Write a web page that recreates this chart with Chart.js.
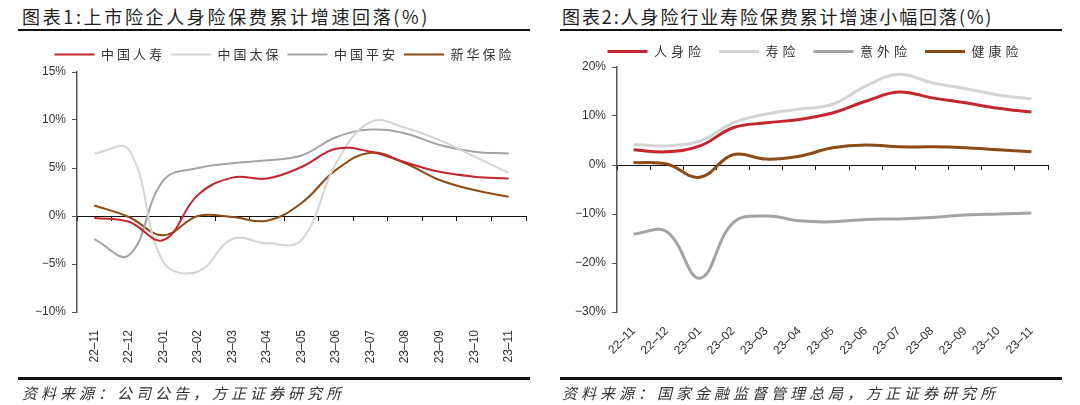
<!DOCTYPE html>
<html>
<head>
<meta charset="utf-8">
<script src="https://cdn.jsdelivr.net/npm/chart.js@4.4.1/dist/chart.umd.min.js"></script>
<style>
  html, body { margin: 0; padding: 0; background: #fff; }
  body { width: 1080px; height: 405px; position: relative; overflow: hidden; font-family: "Noto Sans CJK SC", sans-serif; }
  .title { position: absolute; top: 3px; font-size: 18px; color: #1e1e1e; white-space: nowrap; }
  .rule { position: absolute; height: 2px; background: #111; }
  .src { position: absolute; top: 382px; font-size: 15px; letter-spacing: 4px; font-style: italic; color: #333; white-space: nowrap; }
  .box { position: absolute; top: 0; width: 540px; height: 380px; }
</style>
</head>
<body>
<div class="title" style="left:22px;letter-spacing:2.65px">图表1:上市险企人身险保费累计增速回落(%)</div>
<div class="rule" style="left:18px;width:512px;top:29px"></div>
<div class="box" style="left:0"><canvas id="c1"></canvas></div>
<div class="rule" style="left:18px;width:512px;top:377px;height:3px"></div>
<div class="src" style="left:22px">资料来源：公司公告，方正证券研究所</div>

<div class="title" style="left:562px;letter-spacing:1.9px">图表2:人身险行业寿险保费累计增速小幅回落(%)</div>
<div class="rule" style="left:560px;width:502px;top:29px"></div>
<div class="box" style="left:540px"><canvas id="c2"></canvas></div>
<div class="rule" style="left:560px;width:502px;top:377px;height:3px"></div>
<div class="src" style="left:562px">资料来源：国家金融监督管理总局，方正证券研究所</div>

<script>
// 月份
const months = ['22–11', '22–12', '23–01', '23–02', '23–03', '23–04', '23–05', '23–06', '23–07', '23–08', '23–09', '23–10', '23–11'];

// 图表1: 上市险企 (%)
const chinaLife = [-0.2, -0.6, -2.5, 2.2, 4.0, 3.9, 5.1, 7.0, 6.7, 5.6, 4.6, 4.1, 3.9];
const cpic = [6.5, 6.9, -4.8, -5.8, -2.4, -2.85, -2.5, 5.5, 9.8, 9.2, 7.9, 6.2, 4.5];
const pingAn = [-2.4, -4.1, 3.7, 5.0, 5.5, 5.8, 6.3, 8.2, 9.0, 8.6, 7.4, 6.7, 6.5];
const newChina = [1.1, -0.1, -2.0, 0.0, -0.1, -0.5, 1.35, 4.8, 6.6, 5.5, 3.75, 2.7, 2.0];
const ticks1 = [-10, -5, 0, 5, 10, 15];

// 图表2: 人身险行业 (%)
const personal = [3.1, 2.7, 3.9, 7.6, 8.6, 9.3, 10.6, 13.0, 14.9, 13.7, 12.7, 11.6, 10.8];
const life = [4.2, 3.9, 4.9, 8.6, 10.4, 11.4, 12.4, 16.1, 18.5, 16.8, 15.6, 14.3, 13.5];
const accident = [-14.1, -13.6, -23.1, -11.8, -10.4, -11.4, -11.6, -11.1, -11.0, -10.7, -10.2, -10.0, -9.8];
const health = [0.5, 0.2, -2.5, 2.1, 1.2, 1.8, 3.5, 4.1, 3.7, 3.7, 3.5, 3.1, 2.7];
const ticks2 = [-30, -20, -10, 0, 10, 20];

const RED = '#C3262D', LIGHT = '#D4D4D4', GREY = '#A3A3A3', BROWN = '#8C4A16';
const tickFont = { family: '"Liberation Sans", Arial, sans-serif', size: 12 };

// 图例字距, 固定高度, 水平偏移
const legendTweak = {
  id: 'legendTweak',
  beforeInit(chart, args, opts) {
    const lg = chart.legend;
    ['fit', 'draw'].forEach(fn => {
      const orig = lg[fn];
      lg[fn] = function () {
        const ctx = chart.ctx;
        ctx.save();
        ctx.letterSpacing = opts.spacing + 'px';
        if (fn === 'draw') ctx.translate(opts.dx, 0);
        orig.apply(this, arguments);
        ctx.restore();
        if (fn === 'fit') this.height = opts.height;
      };
    });
  }
};

function series(label, data, color, width) {
  return { label, data, borderColor: color, backgroundColor: color, borderWidth: width,
           pointRadius: 0, tension: 0.4, fill: false };
}

function makeChart(id, datasets, ymin, ymax, yticks, cfg) {
  new Chart(document.getElementById(id), {
    type: 'line',
    data: { labels: months, datasets },
    plugins: [legendTweak],
    options: {
      responsive: true,
      maintainAspectRatio: false,
      animation: false,
      layout: { padding: cfg.padding },
      plugins: {
        tooltip: { enabled: false },
        legend: {
          labels: {
            usePointStyle: true, pointStyle: 'line', pointStyleWidth: 40,
            padding: cfg.legendPad, color: '#333',
            font: { family: '"Noto Sans CJK SC", sans-serif', size: 13 }
          }
        },
        legendTweak: { spacing: cfg.spacing, height: cfg.legendHeight, dx: cfg.dx }
      },
      scales: {
        x: {
          offset: true,
          grid: { display: false },
          border: { display: false },
          ticks: { color: '#333', font: tickFont, minRotation: cfg.rot, maxRotation: cfg.rot, padding: cfg.xPad, autoSkip: false },
          afterFit: s => { s.height = 68; }
        },
        x0: {
          type: 'category',
          labels: months,
          offset: true,
          position: { y: 0 },
          grid: { offset: true, drawOnChartArea: false, drawTicks: true, tickLength: 4, color: '#111' },
          border: { color: '#111', width: 1 },
          ticks: { display: false }
        },
        y: {
          min: ymin, max: ymax,
          afterBuildTicks: s => { s.ticks = yticks.map(v => ({ value: v })); },
          grid: { drawOnChartArea: false, tickLength: 5, tickColor: '#555' },
          border: { color: '#555', width: 1.5 },
          ticks: { color: '#333', font: tickFont, padding: 6, callback: v => (v < 0 ? '−' + (-v) : v) + '%' },
          afterFit: s => { s.width = 42; }
        }
      }
    }
  });
}

makeChart('c1', [
  series('中国人寿', chinaLife, RED, 2),
  series('中国太保', cpic, LIGHT, 2),
  series('中国平安', pingAn, GREY, 2),
  series('新华保险', newChina, BROWN, 2)
], -10, 15, ticks1, {
  padding: { left: 35, right: 14, top: 42, bottom: 0 },
  legendPad: 6, spacing: 3, legendHeight: 30, dx: 4, rot: 90, xPad: 10
});

makeChart('c2', [
  series('人身险', personal, RED, 3),
  series('寿险', life, LIGHT, 3),
  series('意外险', accident, GREY, 3),
  series('健康险', health, BROWN, 3)
], -30, 20, ticks2, {
  padding: { left: 35, right: 32, top: 31, bottom: 0 },
  legendPad: 14, spacing: 4, legendHeight: 36, dx: 3.5, rot: 45, xPad: 4
});
</script>
</body>
</html>
